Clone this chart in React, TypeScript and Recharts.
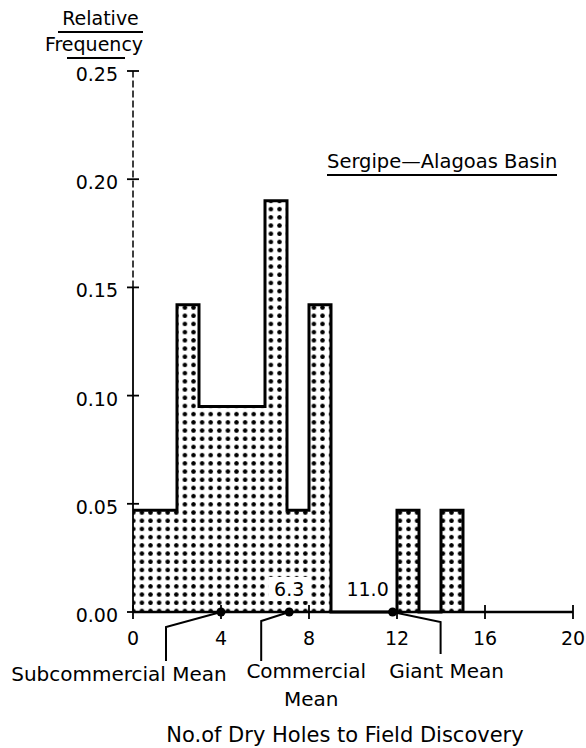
import { AreaChart, Area, XAxis, YAxis, ReferenceDot, ReferenceLine } from "recharts";

// histogram bins (width 1), value = relative frequency of the bin starting at x
const binStart = [0, 1, 2, 3, 4, 5, 6, 7, 8, 9, 10, 11, 12, 13, 14, 15];
const relFreq = [0.047, 0.047, 0.142, 0.095, 0.095, 0.095, 0.19, 0.047, 0.142, 0, 0, 0, 0.047, 0, 0.047, 0];

const xTicks = [0, 4, 8, 12, 16, 20];
const yTicks = [0, 0.05, 0.1, 0.15, 0.2, 0.25];

const meanNames = [["Subcommercial Mean"], ["Commercial", "Mean"], ["Giant Mean"]];
const meanX = [4, 7.1, 11.8];
const meanValueText = ["", "6.3", "11.0"];

const data = binStart.map((x, i) => ({ x, freq: relFreq[i] }));

const FONT = "'DejaVu Sans', sans-serif";

// leader line + label offsets (pixels from the dot)
const leader = [
  { bend: [-55, 15], end: 49, text: [[-102, 62]], val: [0, -23] },
  { bend: [-28, 9], end: 49, text: [[17, 59], [22, 87]], val: [0, -23] },
  { bend: [48, 10], end: 42, text: [[54, 59]], val: [-25, -23] },
];

const YTick = ({ x, y, payload }: any) => (
  <g>
    <line x1={x - 6} x2={x + 6} y1={y} y2={y} stroke="#000" strokeWidth={1.8} />
    <text x={x - 15} y={y + 3} textAnchor="end" dominantBaseline="central" fontSize={19} fontFamily={FONT} fill="#000">
      {Number(payload.value).toFixed(2)}
    </text>
  </g>
);

const XTick = ({ x, y, payload }: any) => (
  <g>
    <line x1={x} x2={x} y1={y - 7} y2={y + 7} stroke="#000" strokeWidth={1.8} />
    <text x={x} y={y + 26} textAnchor="middle" dominantBaseline="central" fontSize={19} fontFamily={FONT} fill="#000">
      {payload.value}
    </text>
  </g>
);

function meanShape(i: number) {
  return (props: any) => {
    const { cx, cy } = props;
    const l = leader[i];
    const bx = cx + l.bend[0];
    const by = cy + l.bend[1];
    const val = meanValueText[i];
    return (
      <g>
        <polyline points={`${cx},${cy} ${bx},${by} ${bx},${cy + l.end}`} fill="none" stroke="#000" strokeWidth={2} />
        <circle cx={cx} cy={cy} r={4.5} fill="#000" />
        {val && (
          <g>
            <rect x={cx + l.val[0] - 21} y={cy + l.val[1] - 12} width={42} height={24} fill="#fff" />
            <text x={cx + l.val[0]} y={cy + l.val[1]} textAnchor="middle" dominantBaseline="central" fontSize={19} fontFamily={FONT} fill="#000">
              {val}
            </text>
          </g>
        )}
        {meanNames[i].map((t, k) => (
          <text key={k} x={cx + l.text[k][0]} y={cy + l.text[k][1]} textAnchor="middle" dominantBaseline="central" fontSize={20} fontFamily={FONT} fill="#000">
            {t}
          </text>
        ))}
      </g>
    );
  };
}

export default function App() {
  return (
    <div style={{ position: "absolute", left: 0, top: 0, width: 586, height: 748, background: "#fff", fontFamily: FONT }}>
      <AreaChart width={586} height={748} data={data} margin={{ top: 71, right: 13, left: 73, bottom: 106 }}>
        <defs>
          <pattern id="dots" width="8.6" height="8.2" patternUnits="userSpaceOnUse">
            <rect width="8.6" height="8.2" fill="#fff" />
            <circle cx="4.3" cy="4.1" r="2.3" fill="#000" />
          </pattern>
        </defs>
        <XAxis
          type="number"
          dataKey="x"
          domain={[0, 20]}
          ticks={xTicks}
          height={30}
          tickSize={0}
          tickMargin={0}
          tickLine={false}
          tick={<XTick />}
          axisLine={{ stroke: "#000", strokeWidth: 2.4 }}
          interval={0}
        />
        <YAxis
          type="number"
          domain={[0, 0.25]}
          ticks={yTicks}
          width={60}
          tickSize={0}
          tickMargin={0}
          tickLine={false}
          tick={<YTick />}
          axisLine={false}
          interval={0}
        />
        <Area
          type="stepAfter"
          dataKey="freq"
          stroke="#000"
          strokeWidth={3}
          fill="url(#dots)"
          fillOpacity={1}
          isAnimationActive={false}
          dot={false}
          activeDot={false}
        />
        <ReferenceLine segment={[{ x: 0, y: 0 }, { x: 0, y: 0.15 }]} stroke="#000" strokeWidth={1.8} ifOverflow="visible" />
        <ReferenceLine segment={[{ x: 0, y: 0.15 }, { x: 0, y: 0.25 }]} stroke="#000" strokeWidth={1.5} strokeDasharray="7 3" ifOverflow="visible" />
        {meanX.map((mx, i) => (
          <ReferenceDot key={i} x={mx} y={0} r={4} ifOverflow="visible" shape={meanShape(i)} />
        ))}
      </AreaChart>

      <div style={{ position: "absolute", left: 58, top: 7, width: 85, textAlign: "center", fontSize: 19, lineHeight: "22px", paddingBottom: 2, borderBottom: "2px solid #000" }}>
        Relative
      </div>
      <div style={{ position: "absolute", left: 40, top: 33, width: 108, textAlign: "center", fontSize: 19, lineHeight: "22px" }}>
        Frequency
      </div>
      <div style={{ position: "absolute", left: 67, top: 57, width: 58, borderTop: "2px solid #000" }} />
      <div style={{ position: "absolute", left: 327, top: 150, fontSize: 19.5, lineHeight: "24px", borderBottom: "2px solid #000", whiteSpace: "nowrap" }}>
        Sergipe—Alagoas Basin
      </div>
      <div style={{ position: "absolute", left: 0, width: 690, top: 723, textAlign: "center", fontSize: 21, lineHeight: "24px", whiteSpace: "nowrap" }}>
        No.of Dry Holes to Field Discovery
      </div>
    </div>
  );
}
